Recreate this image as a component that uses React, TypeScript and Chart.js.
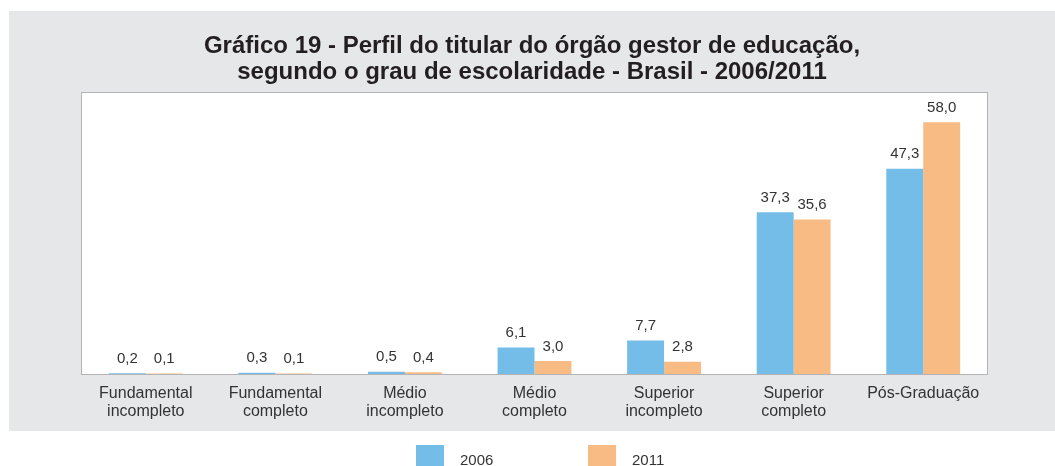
import React, { useEffect, useRef } from "react";
import { Chart, registerables } from "chart.js";

Chart.register(...registerables);

const titleLines = [
  "Gráfico 19 - Perfil do titular do órgão gestor de educação,",
  "segundo o grau de escolaridade - Brasil - 2006/2011",
];
const categories: string[][] = [
  ["Fundamental", "incompleto"],
  ["Fundamental", "completo"],
  ["Médio", "incompleto"],
  ["Médio", "completo"],
  ["Superior", "incompleto"],
  ["Superior", "completo"],
  ["Pós-Graduação"],
];
const seriesNames = ["2006", "2011"];
const values2006 = [0.2, 0.3, 0.5, 6.1, 7.7, 37.3, 47.3];
const values2011 = [0.1, 0.1, 0.4, 3.0, 2.8, 35.6, 58.0];
const colors = ["#74bde8", "#f9bb84"];
const yMax = 65;

const W = 1055;
const H = 466;
const FONT = "'Liberation Sans', Arial, sans-serif";

const decorPlugin = {
  id: "decor",
  beforeDraw(chart: any) {
    const { ctx, chartArea } = chart;
    ctx.save();
    ctx.fillStyle = "#ffffff";
    ctx.fillRect(0, 0, W, H);
    ctx.fillStyle = "#e6e7e8";
    ctx.fillRect(9, 11, W - 9, 420);
    ctx.fillStyle = "#ffffff";
    ctx.fillRect(chartArea.left, chartArea.top, chartArea.right - chartArea.left, chartArea.bottom - chartArea.top);
    ctx.strokeStyle = "#b3b3b3";
    ctx.lineWidth = 1;
    ctx.strokeRect(chartArea.left + 0.5, chartArea.top + 0.5, chartArea.right - chartArea.left - 1, chartArea.bottom - chartArea.top);
    // title
    ctx.fillStyle = "#231f20";
    ctx.font = `bold 24px ${FONT}`;
    ctx.textAlign = "center";
    ctx.textBaseline = "alphabetic";
    ctx.fillText(titleLines[0], 532, 53);
    ctx.fillText(titleLines[1], 532, 79);
    ctx.restore();
  },
  afterDraw(chart: any) {
    const { ctx } = chart;
    ctx.save();
    // legend
    const items = [
      { x: 416, label: seriesNames[0], color: colors[0] },
      { x: 588, label: seriesNames[1], color: colors[1] },
    ];
    ctx.font = `15px ${FONT}`;
    ctx.textAlign = "left";
    ctx.textBaseline = "alphabetic";
    for (const it of items) {
      ctx.fillStyle = it.color;
      ctx.fillRect(it.x, 445, 28, 22);
      ctx.fillStyle = "#333333";
      ctx.fillText(it.label, it.x + 44, 465);
    }
    // data labels
    ctx.font = `15px ${FONT}`;
    ctx.textAlign = "center";
    ctx.textBaseline = "bottom";
    ctx.fillStyle = "#333333";
    chart.data.datasets.forEach((ds: any, di: number) => {
      const meta = chart.getDatasetMeta(di);
      meta.data.forEach((el: any, i: number) => {
        const v = ds.data[i] as number;
        const txt = v.toFixed(1).replace(".", ",");
        ctx.fillText(txt, el.x, el.y - 7);
      });
    });
    ctx.restore();
  },
};

export default function App() {
  const ref = useRef<HTMLCanvasElement>(null);
  useEffect(() => {
    if (!ref.current) return;
    const chart = new Chart(ref.current, {
      type: "bar",
      data: {
        labels: categories,
        datasets: [
          { label: seriesNames[0], data: values2006, backgroundColor: colors[0], borderWidth: 0 },
          { label: seriesNames[1], data: values2011, backgroundColor: colors[1], borderWidth: 0 },
        ],
      },
      options: {
        responsive: false,
        animation: false,
        devicePixelRatio: 1,
        layout: { padding: { left: 81, right: 67, top: 92, bottom: 0 } },
        plugins: {
          legend: { display: false },
          title: { display: false },
          tooltip: { enabled: false },
        },
        datasets: { bar: { categoryPercentage: 0.57, barPercentage: 1 } },
        scales: {
          y: { display: false, min: 0, max: yMax },
          x: {
            grid: { display: false, drawTicks: false },
            border: { display: false },
            ticks: {
              color: "#333333",
              font: { family: FONT, size: 16, lineHeight: 1.125 },
              padding: 11,
              maxRotation: 0,
              autoSkip: false,
            },
            afterFit: (scale: any) => {
              scale.height = H - 374;
            },
          },
        },
      },
      plugins: [decorPlugin],
    });
    return () => chart.destroy();
  }, []);
  return (
    <div style={{ position: "fixed", left: 0, top: 0, width: W, height: H }}>
      <canvas ref={ref} width={W} height={H} style={{ width: W, height: H, display: "block" }} />
    </div>
  );
}
